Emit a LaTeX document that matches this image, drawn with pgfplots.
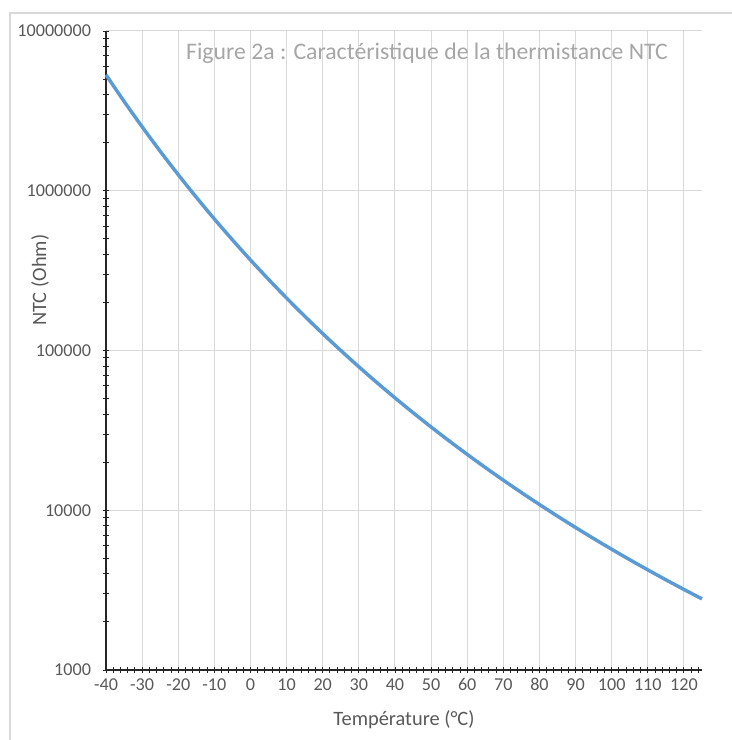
\documentclass[border=0pt]{standalone}
\usepackage{fontspec}
\setmainfont{Carlito}
\usepackage{pgfplots}
\pgfplotsset{compat=1.18}
\definecolor{curve}{RGB}{91,155,213}
\definecolor{gridc}{RGB}{217,217,217}
\definecolor{txt}{RGB}{89,89,89}
\definecolor{ttl}{RGB}{166,166,166}
\begin{document}
\begin{tikzpicture}
\useasboundingbox (0pt,0pt) rectangle (549pt,555pt);
\draw[gridc, line width=1.1pt] (7.5pt,0pt) -- (7.5pt,545.25pt) -- (549pt,545.25pt);
\begin{axis}[
  at={(79.5pt,52.5pt)}, anchor=south west,
  scale only axis, width=447pt, height=479.25pt,
  xmin=-40, xmax=125, ymode=log, ymin=1000, ymax=10000000,
  axis lines=left, axis line style={-, black!85, line width=0.8pt},
  xtick={-40,-30,...,120},
  xticklabels={-40,-30,-20,-10,0,10,20,30,40,50,60,70,80,90,100,110,120},
  minor xtick={-38,-36,...,124},
  ytick={1000,10000,100000,1000000,10000000},
  yticklabels={1000,10000,100000,1000000,10000000},
  minor ytick={2000,3000,4000,5000,6000,7000,8000,9000,
    20000,30000,40000,50000,60000,70000,80000,90000,
    200000,300000,400000,500000,600000,700000,800000,900000,
    2000000,3000000,4000000,5000000,6000000,7000000,8000000,9000000},
  tick align=center, major tick length=4.5pt, minor tick length=4.5pt,
  tick style={black!85, line width=0.7pt},
  xmajorgrids, ymajorgrids, grid style={gridc, line width=0.75pt},
  ticklabel style={font=\fontsize{13.6}{16}\selectfont, text=txt},
  xticklabel style={text height=9.5pt, text depth=2.5pt},
  yticklabel style={xshift=-5.5pt},
  label style={font=\fontsize{15.3}{18}\selectfont, text=txt},
  xlabel={Température (°C)},
  ylabel={NTC (Ohm)},
  xlabel style={at={(axis description cs:0.5,-0.0782)}, anchor=center},
  ylabel style={at={(axis description cs:-0.1107,0.61)}, anchor=center},
  clip=false,
]
\addplot[curve, line width=2.6pt, smooth] coordinates {
(-40,5319000) (-35,3628000) (-30,2514000) (-25,1767500) (-20,1260200)
(-15,910400) (-10,665800) (-5,492700) (0,368600) (5,278700)
(10,212800) (15,164000) (20,127500) (25,100000) (30,79050)
(35,62960) (40,50520) (45,40820) (50,33190) (55,27170)
(60,22370) (65,18520) (70,15420) (75,12910) (80,10860)
(85,9181) (90,7797) (95,6651) (100,5698) (105,4901)
(110,4233) (115,3669) (120,3192) (125,2787)
};
\node[font=\fontsize{17.8}{21}\selectfont, text=ttl, anchor=base] at (axis description cs:0.5386,0.9546) {Figure 2a : Caractéristique de la thermistance NTC};
\end{axis}
\end{tikzpicture}
\end{document}
